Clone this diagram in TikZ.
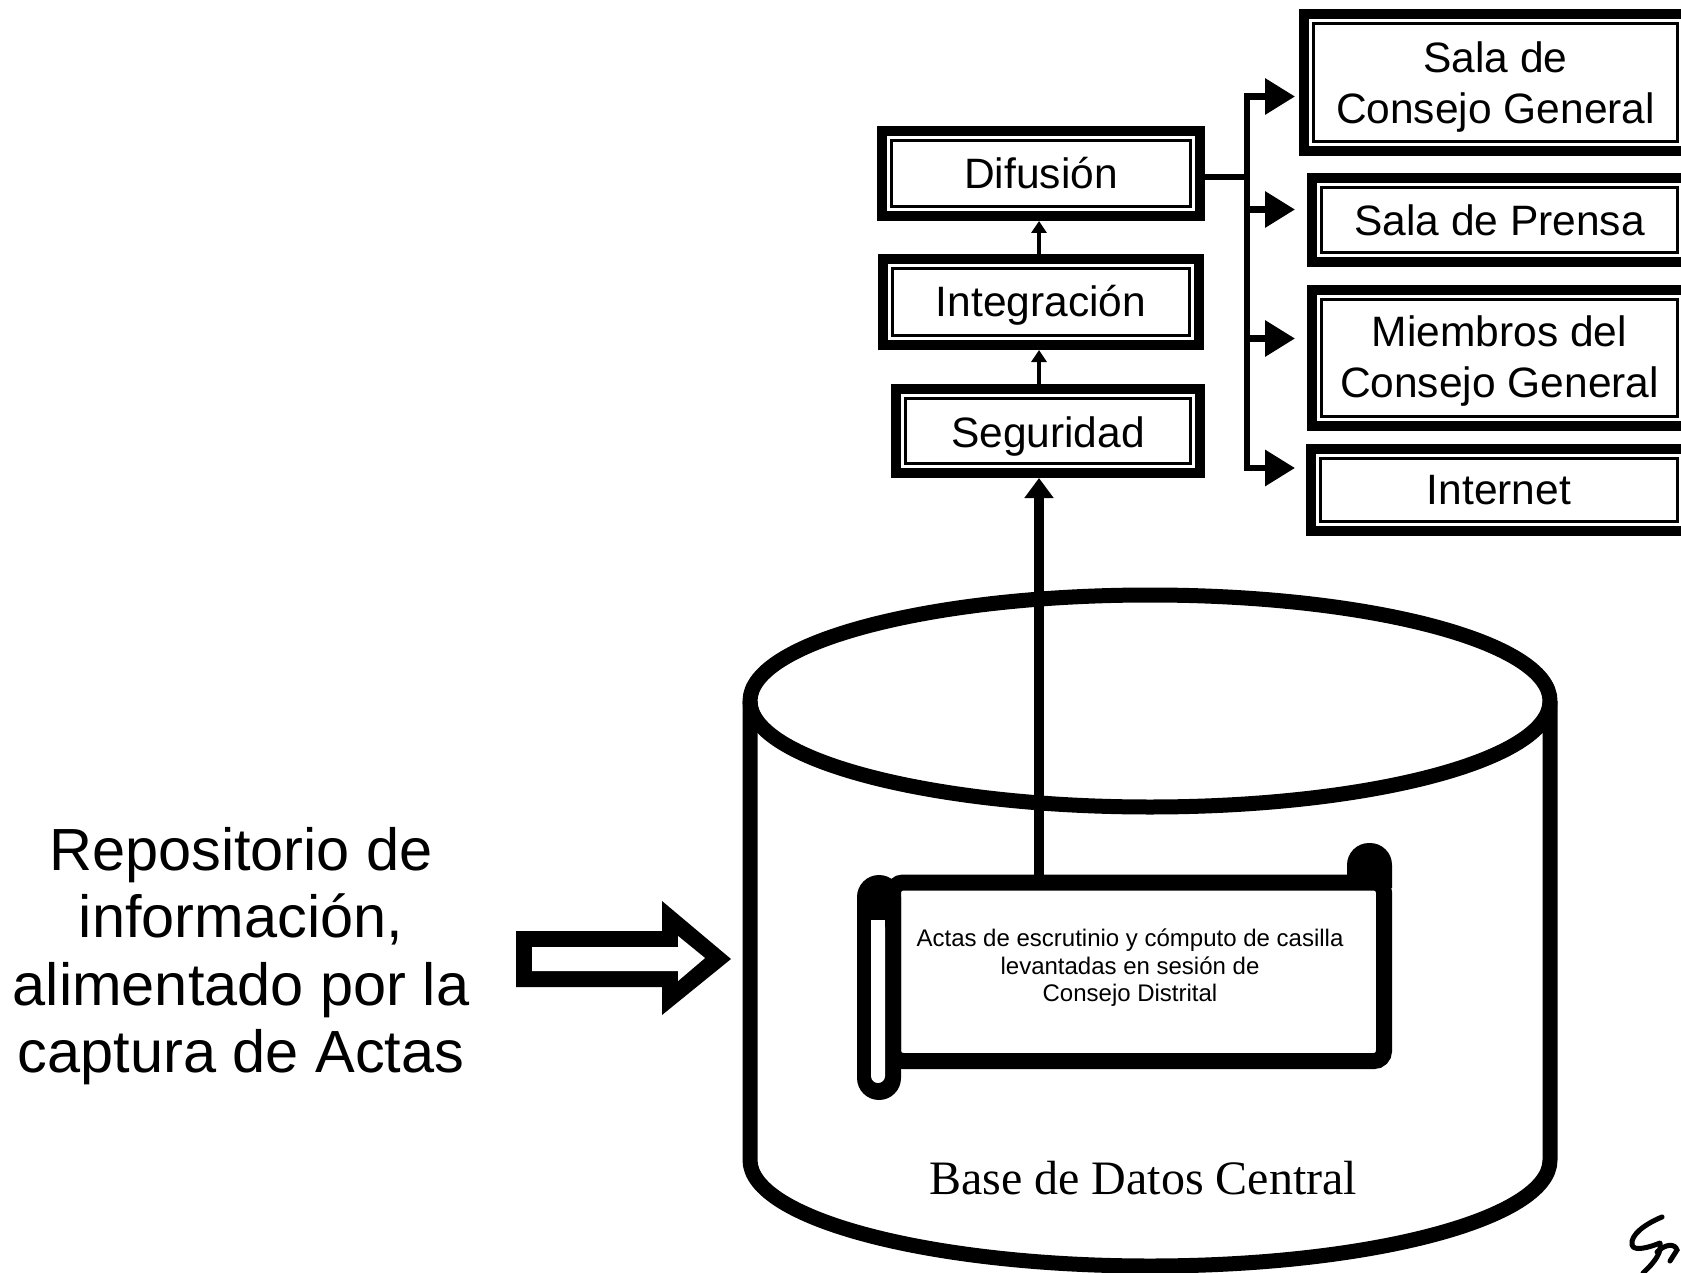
\documentclass[tikz,border=0pt]{standalone}
\usepackage{fontspec}
\setmainfont{Liberation Sans}
\newfontfamily\captionserif{Liberation Serif}
\usetikzlibrary{arrows.meta}

\tikzset{
    panel/.style 2 args={
        draw=black, line width=10pt, inner sep=0pt, align=center,
        minimum width={#1pt-10pt}, minimum height={#2pt-10pt},
        font=\fontsize{42.5}{51}\selectfont,
        append after command={\pgfextra{
            \draw[line width=3pt]
                ([shift={(14.5pt,-14.5pt)}]\tikzlastnode.north west) rectangle
                ([shift={(-14.5pt,14.5pt)}]\tikzlastnode.south east);
        }}
    },
    stage/.style={line width=3.5pt, -{Triangle[length=12pt,width=15pt]}},
    feed/.style={line width=10pt, -{Triangle[length=20pt,width=28pt]}},
    branch/.style={line width=6.5pt, -{Triangle[length=30pt,width=35pt]}},
    tank/.style={line width=15pt, line join=round},
}

\begin{document}
\begin{tikzpicture}[x=1pt, y=-1pt]
    % Globals
    \pgfmathsetmacro{\tankX}{1150}
    \pgfmathsetmacro{\tankRx}{400}
    \pgfmathsetmacro{\tankRy}{106}
    \pgfmathsetmacro{\tankTop}{701}
    \pgfmathsetmacro{\tankBase}{1160}

    \path[use as bounding box, clip] (0,0) rectangle (1681,1273);

    % Tank
    \draw[tank] (\tankX, \tankTop) ellipse [x radius=\tankRx, y radius=\tankRy];
    \draw[tank] (\tankX-\tankRx, \tankTop) -- (\tankX-\tankRx, \tankBase)
        arc[start angle=180, end angle=0, x radius=\tankRx, y radius=\tankRy]
        -- (\tankX+\tankRx, \tankTop);
    \node[font=\captionserif\fontsize{48}{52}\selectfont] (BASE) at (1143, 1178) {Base de Datos Central};

    % Scroll
    \fill[black, rounded corners=22pt] (1347, 888) -- (1347, 843) -- (1392, 843) -- (1392, 888);
    \node[draw=black, line width=16pt, rounded corners=10pt, minimum width=491pt, minimum height=178.5pt, inner sep=0pt]
        (SCROLL) at (1138.5, 971.75) {};
    \fill[black, rounded corners=22pt] (857, 875) rectangle (901, 1100);
    \fill[white, rounded corners=7pt] (871, 920) -- (885, 920) -- (885, 1083) -- (871, 1083) -- cycle;
    \fill[white] (871, 920) rectangle (885, 934);
    \node[align=center, font=\fontsize{24}{27.5}\selectfont] (ACTAS) at (1130, 968)
        {Actas de escrutinio y cómputo de casilla\\levantadas en sesión de\\Consejo Distrital};

    % Stages
    \node[panel={328}{95}] (DIFUSION) at (1041, 173.5) {Difusión};
    \node[panel={326}{96}, text height=37.4pt] (INTEGRACION) at (1041, 302) {Integración};
    \node[panel={314}{94}, text height=41.8pt] (SEGURIDAD) at (1048, 431) {Seguridad};

    % Targets
    \node[panel={393}{147}, text height=91.2pt] (CONSEJO) at (1495.5, 82.5) {Sala de\\Consejo General};
    \node[panel={385}{94}] (PRENSA) at (1499.5, 220) {Sala de Prensa};
    \node[panel={385}{146}, text height=88.6pt] (MIEMBROS) at (1499.5, 358) {Miembros del\\Consejo General};
    \node[panel={386}{92}] (INTERNET) at (1499, 490) {Internet};

    % Left note
    \node[align=center, font=\fontsize{59.5}{67.5}\selectfont] (NOTE) at (241, 956)
        {Repositorio de\\información,\\alimentado por la\\captura de Actas};
    \fill[black] (516, 931) -- (662, 931) -- (662, 901) -- (731, 959) -- (662, 1015) -- (662, 987) -- (516, 987) -- cycle;
    \fill[white] (532, 947) -- (678, 947) -- (678, 936) -- (705, 958) -- (678, 981) -- (678, 971) -- (532, 971) -- cycle;

    % Connectors
    \coordinate (AXIS) at (1039, 0);
    \draw[feed] (SCROLL.north -| AXIS) -- (SEGURIDAD.south -| AXIS);
    \draw[stage] (INTEGRACION.north -| AXIS) -- (DIFUSION.south -| AXIS);
    \draw[stage] (SEGURIDAD.north -| AXIS) -- (INTEGRACION.south -| AXIS);

    \coordinate (TRUNK) at (1247, 177);
    \draw[line width=6pt] (DIFUSION.east |- TRUNK) -- (TRUNK);
    \foreach \target/\dy/\gap in {CONSEJO/-14/4, PRENSA/10.5/12, MIEMBROS/19.5/12, INTERNET/22/11} {
        \draw[branch] (TRUNK) |- ([shift={(-\gap pt,\dy pt)}]\target.west);
    }

    % Signature
    \draw[line width=5pt, line cap=round, line join=round]
        (1662, 1217) .. controls (1645, 1224) and (1630, 1235) .. (1632, 1245)
        .. controls (1634, 1252) and (1650, 1247) .. (1660, 1243)
        .. controls (1662, 1252) and (1655, 1262) .. (1643, 1273);
    \draw[line width=5pt, line cap=round]
        (1657, 1252) .. controls (1665, 1244) and (1675, 1243) .. (1677, 1250)
        -- (1670, 1261);
\end{tikzpicture}
\end{document}
